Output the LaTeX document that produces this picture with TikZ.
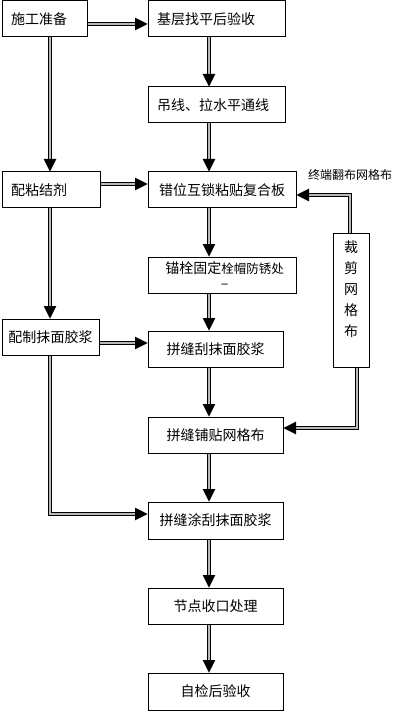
\documentclass[tikz,border=0pt]{standalone}
\usepackage{fontspec}
\setmainfont{Noto Sans CJK SC}
\usetikzlibrary{arrows.meta}

\begin{document}
\begin{tikzpicture}[x=1pt, y=-1pt]
    \tikzset{
        blk/.style={draw, line width=1pt, minimum height=36pt, inner sep=0pt,
            font=\fontsize{14}{16}\selectfont},
        lft/.style={align=left, inner xsep=9pt, text width=#1},
        link/.style={line width=0.9pt, double=gray!55, double distance=2pt,
            line join=miter,
            -{Triangle[length=12.5pt, width=12.5pt, line width=0.1pt]}}
    }
    \useasboundingbox (0, 0) rectangle (407, 711);

    \node[blk, lft=67pt, minimum width=85pt] (prep) at (44.5, 19) {施工准备};
    \node[blk, lft=119pt, minimum width=137pt] (base) at (216.5, 19) {基层找平后验收};
    \node[blk, lft=119pt, minimum width=137pt] (line) at (216.5, 105) {吊线、拉水平通线};
    \node[blk, lft=80pt, minimum width=98pt] (glue) at (51, 190) {配粘结剂};
    \node[blk, minimum width=148pt] (board) at (222, 190) {错位互锁粘贴复合板};
    \node[blk, minimum width=148pt, align=center,
        font=\fontsize{14}{15}\selectfont] (fix) at (222, 275)
        {\hspace*{5pt}锚栓固定{\fontsize{12.5}{15}\selectfont 栓帽防锈处}\\\hspace*{5pt}–};
    \node[blk, minimum width=36pt, minimum height=134pt, align=center,
        font=\fontsize{14}{21}\selectfont] (cut) at (351, 300)
        {裁\\剪\\网\\格\\布\\ \vphantom{布}};
    \node[font=\fontsize{12}{14}\selectfont] (note) at (350, 175) {终端翻布网格布};
    \node[blk, minimum width=97pt] (mortar) at (50.5, 337) {配制抹面胶浆};
    \node[blk, minimum width=135pt] (scrape) at (215.5, 349) {拼缝刮抹面胶浆};
    \node[blk, minimum width=135pt] (mesh) at (215.5, 435) {拼缝铺贴网格布};
    \node[blk, minimum width=135pt, minimum height=37pt] (coat) at (215.5, 520.5) {拼缝涂刮抹面胶浆};
    \node[blk, minimum width=135pt] (joint) at (215.5, 606) {节点收口处理};
    \node[blk, minimum width=135pt, minimum height=37pt] (check) at (215.5, 691.5) {自检后验收};

    \coordinate (mid) at (209, 0);
    \coordinate (side) at (50, 0);

    \draw[link] (base.south -| mid) -- (line.north -| mid);
    \draw[link] (line.south -| mid) -- (board.north -| mid);
    \draw[link] (board.south -| mid) -- (fix.north -| mid);
    \draw[link] (fix.south -| mid) -- (scrape.north -| mid);
    \draw[link] (scrape.south -| mid) -- (mesh.north -| mid);
    \draw[link] (mesh.south -| mid) -- (coat.north -| mid);
    \draw[link] (coat.south -| mid) -- (joint.north -| mid);
    \draw[link] (joint.south -| mid) -- (check.north -| mid);

    \draw[link] ([yshift=-5pt]prep.east) -- ([yshift=-5pt]base.west);
    \draw[link] ([yshift=6pt]glue.east) -- ([yshift=6pt]board.west);
    \draw[link] ([yshift=-6pt]mortar.east) -- ([yshift=6pt]scrape.west);

    \draw[link] (prep.south -| side) -- (glue.north -| side);
    \draw[link] (glue.south -| side) -- (mortar.north -| side);
    \draw[link] (mortar.south -| side) |- ([yshift=6.5pt]coat.west);

    \draw[link] ([xshift=-1pt]cut.north) |- ([yshift=-5pt]board.east);
    \draw[link] ([xshift=6pt]cut.south) |- ([yshift=7pt]mesh.east);
\end{tikzpicture}
\end{document}
